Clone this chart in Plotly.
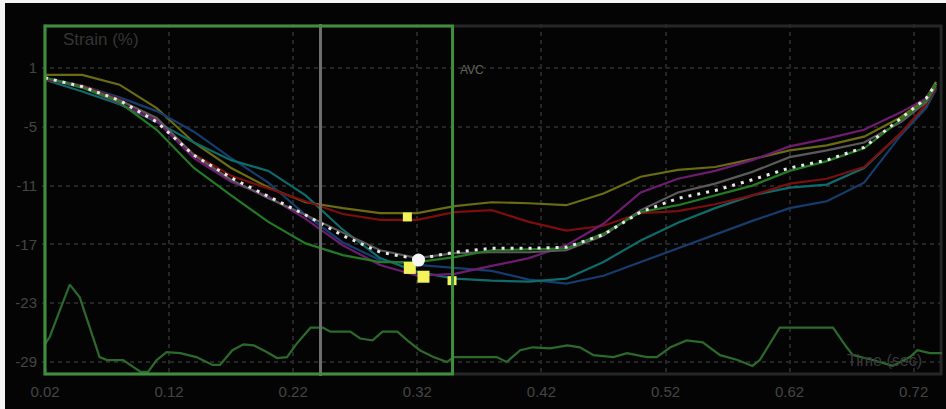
import plotly.graph_objects as go

# --- time base (s) shared by the segment strain curves ---
time_s = [0.020, 0.050, 0.080, 0.110, 0.140, 0.170, 0.200, 0.230, 0.260, 0.290,
          0.320, 0.350, 0.380, 0.410, 0.440, 0.470, 0.500, 0.530, 0.560, 0.590,
          0.620, 0.650, 0.680, 0.710, 0.730, 0.738]

# --- segmental longitudinal strain (%) ---
seg_olive = [0.3, 0.3, -0.7, -3.1, -6.6, -9.2, -11.2, -12.7, -13.3, -13.8,
             -13.8, -13.1, -12.7, -12.8, -13.0, -11.8, -10.1, -9.4, -9.1, -8.3,
             -7.4, -6.9, -6.0, -4.0, -2.1, -0.4]
seg_red = [-0.2, -0.8, -2.2, -4.3, -7.8, -10.0, -11.3, -12.6, -13.9, -14.5,
           -14.5, -13.7, -13.5, -14.7, -15.6, -15.1, -13.8, -13.6, -12.9, -12.0,
           -10.8, -10.3, -9.1, -5.6, -2.7, -1.0]
seg_purple = [-0.1, -1.0, -2.6, -4.4, -8.2, -10.6, -12.1, -14.4, -17.1, -19.1,
              -20.2, -20.0, -19.2, -18.4, -17.1, -14.9, -11.7, -10.3, -9.5, -8.4,
              -7.0, -6.2, -5.3, -3.5, -2.1, -0.8]
seg_teal = [-0.2, -1.4, -2.7, -4.5, -6.6, -8.4, -9.5, -12.0, -15.5, -18.4,
            -19.8, -20.5, -20.7, -20.8, -20.5, -18.8, -16.6, -14.8, -13.3, -12.0,
            -11.2, -10.9, -9.2, -5.6, -2.8, -1.0]
seg_blue = [0.0, -0.8, -2.0, -3.4, -5.5, -8.2, -10.7, -14.0, -16.8, -18.6,
            -19.1, -19.4, -19.7, -20.6, -21.0, -20.2, -18.8, -17.4, -16.0, -14.6,
            -13.3, -12.6, -10.7, -5.8, -3.1, -1.2]
seg_green = [0.0, -1.0, -2.5, -5.3, -9.2, -12.0, -14.7, -16.9, -18.1, -18.8,
             -18.8, -18.3, -17.6, -17.5, -17.4, -15.9, -13.7, -13.0, -12.0, -11.0,
             -9.5, -8.5, -7.2, -4.3, -2.3, -0.6]
seg_gray = [0.0, -0.9, -2.3, -4.1, -7.9, -10.4, -12.3, -14.0, -15.8, -17.6,
            -18.4, -17.9, -17.8, -17.8, -17.6, -16.1, -13.5, -11.7, -10.8, -9.6,
            -8.1, -7.4, -6.6, -4.5, -2.5, -0.8]
global_avg = [0.0, -0.9, -2.3, -4.5, -7.9, -10.2, -12.1, -14.0, -16.1, -17.8,
              -18.5, -17.8, -17.4, -17.4, -17.3, -16.0, -13.7, -12.3, -11.5, -10.4,
              -9.2, -8.4, -7.1, -4.1, -2.1, -0.6]

# --- peak systolic strain markers ---
peak_time = [0.312, 0.314, 0.325, 0.348]
peak_value = [-14.2, -19.4, -20.3, -20.7]
peak_size = [9, 12, 12, 9]
avg_peak_time = [0.321]
avg_peak_value = [-18.6]

# --- ECG trace, drawn in the strain axis units ---
ecg_time = [0.020, 0.024, 0.032, 0.040, 0.048, 0.056, 0.064, 0.070, 0.083, 0.091,
            0.097, 0.103, 0.110, 0.118, 0.129, 0.142, 0.155, 0.161, 0.171, 0.180,
            0.188, 0.199, 0.207, 0.215, 0.223, 0.234, 0.244, 0.250, 0.266, 0.274,
            0.284, 0.292, 0.304, 0.312, 0.322, 0.333, 0.344, 0.349, 0.384, 0.392,
            0.403, 0.413, 0.427, 0.441, 0.451, 0.462, 0.478, 0.489, 0.505, 0.513,
            0.524, 0.537, 0.550, 0.564, 0.578, 0.590, 0.596, 0.612, 0.634, 0.655,
            0.666, 0.671, 0.687, 0.703, 0.717, 0.723, 0.733, 0.744]
ecg_value = [-27.2, -26.4, -23.7, -21.1, -22.4, -25.4, -28.5, -28.8, -28.8, -29.5,
             -30.0, -30.0, -28.8, -28.0, -28.1, -28.5, -29.3, -29.3, -27.8, -27.2,
             -27.3, -28.0, -28.6, -28.5, -27.1, -25.5, -25.5, -25.9, -25.9, -26.6,
             -26.8, -25.9, -25.9, -26.8, -27.8, -28.5, -29.0, -28.5, -28.5, -29.0,
             -27.8, -27.5, -27.6, -27.3, -27.5, -28.3, -28.5, -28.1, -28.5, -28.5,
             -27.5, -26.8, -27.0, -28.3, -28.8, -29.4, -28.8, -25.5, -25.5, -25.5,
             -27.5, -28.3, -28.8, -29.4, -28.5, -27.8, -28.1, -28.1]

# --- axes ---
x_ticks = [0.02, 0.12, 0.22, 0.32, 0.42, 0.52, 0.62, 0.72]
x_tick_text = ["0.02", "0.12", "0.22", "0.32", "0.42", "0.52", "0.62", "0.72"]
y_ticks = [1, -5, -11, -17, -23, -29]
y_tick_text = ["1", "-5", "-11", "-17", "-23", "-29"]

# --- events (s) ---
roi_start = 0.02
avc_time = 0.3484
cursor_time = 0.242

FONT = "Liberation Sans, Arial"

fig = go.Figure()

fig.add_trace(go.Scatter(x=ecg_time, y=ecg_value, mode="lines",
                         line=dict(color="#2c6a2c", width=2.2), hoverinfo="skip"))

segments = [
    (seg_olive, "#6b6b14"),
    (seg_blue, "#173c6c"),
    (seg_teal, "#0f6b6b"),
    (seg_red, "#7c0e0e"),
    (seg_purple, "#6e1c70"),
    (seg_gray, "#5a5a5a"),
    (seg_green, "#247a24"),
]
for values, color in segments:
    fig.add_trace(go.Scatter(x=time_s, y=values, mode="lines",
                             line=dict(color=color, width=2.2), hoverinfo="skip"))

fig.add_trace(go.Scatter(x=time_s, y=global_avg, mode="lines",
                         line=dict(color="#e8e8e8", width=3, dash="3px,6px"),
                         hoverinfo="skip"))

fig.add_trace(go.Scatter(x=peak_time, y=peak_value, mode="markers",
                         marker=dict(color="#f2f25a", size=peak_size, opacity=1,
                                     symbol="square", line=dict(width=0)),
                         hoverinfo="skip"))
fig.add_trace(go.Scatter(x=avg_peak_time, y=avg_peak_value, mode="markers",
                         marker=dict(color="#f6f6f6", size=13, opacity=1,
                                     line=dict(width=0)),
                         hoverinfo="skip"))

shapes = [
    # canvas (thin light border on the top and left edges)
    dict(type="rect", xref="paper", yref="paper", x0=-0.0411, x1=1.01,
         y0=-0.1, y1=1.0597, fillcolor="#040404", line=dict(width=0), layer="below"),
    # outer frame
    dict(type="rect", xref="paper", yref="paper", x0=0.0033, x1=0.999,
         y0=0.0057, y1=0.9943, line=dict(color="#262626", width=3), layer="below"),
    # cursor
    dict(type="line", xref="x", yref="paper", x0=cursor_time, x1=cursor_time,
         y0=0, y1=1, line=dict(color="#6e6e6e", width=3), layer="above"),
    # systolic interval box
    dict(type="rect", xref="x", yref="paper", x0=roi_start, x1=avc_time,
         y0=0.0057, y1=0.9943, line=dict(color="#3e8e3e", width=3), layer="above"),
]

annotations = [
    dict(text="Strain (%)", xref="paper", yref="paper", x=0.021, y=0.955,
         xanchor="left", yanchor="middle", showarrow=False,
         font=dict(color="#353535", size=17, family=FONT)),
    dict(text="Time (sec)", xref="paper", yref="paper", x=0.892, y=0.045,
         xanchor="left", yanchor="middle", showarrow=False,
         font=dict(color="#3a3a3a", size=16, family=FONT)),
    dict(text="AVC", xref="x", yref="y", x=avc_time + 0.004, y=0.8,
         xanchor="left", yanchor="middle", showarrow=False,
         font=dict(color="#62625a", size=12, family=FONT)),
]

fig.update_layout(
    width=946, height=409,
    margin=dict(l=42, r=4, t=24, b=33),
    paper_bgcolor="#f4f4f4",
    plot_bgcolor="#040404",
    showlegend=False,
    shapes=shapes,
    annotations=annotations,
    font=dict(family=FONT, size=15, color="#444444"),
)
fig.update_xaxes(
    range=[0.0176, 0.7428], tickvals=x_ticks, ticktext=x_tick_text,
    showgrid=True, gridcolor="#262626", gridwidth=2, griddash="4px,4px",
    zeroline=False, showline=False, ticks="", ticklabelstandoff=5,
    tickfont=dict(color="#444444", size=15),
)
fig.update_yaxes(
    range=[-30.43, 5.49], tickvals=y_ticks, ticktext=y_tick_text,
    showgrid=True, gridcolor="#262626", gridwidth=2, griddash="4px,4px",
    zeroline=False, showline=False, ticks="", ticklabelstandoff=4,
    tickfont=dict(color="#444444", size=15),
)

fig.write_html("out.html")
